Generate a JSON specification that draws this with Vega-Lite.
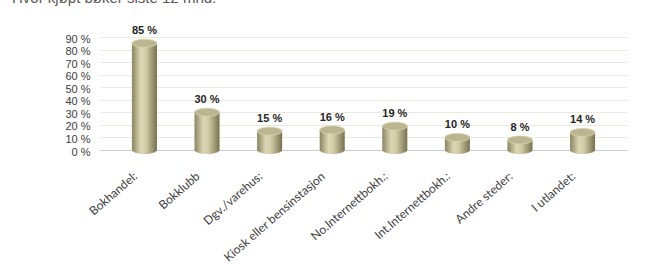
{
  "$schema": "https://vega.github.io/schema/vega-lite/v6.json",
  "width": 527,
  "height": 113,
  "autosize": "none",
  "padding": {"left": 100, "top": 37, "right": 42, "bottom": 118},
  "background": "white",
  "title": {
    "text": "Hvor kjøpt bøker siste 12 mnd.",
    "anchor": "start",
    "frame": "group",
    "dx": -88,
    "offset": 4,
    "baseline": "bottom",
    "fontSize": 15,
    "fontWeight": "normal",
    "font": "Liberation Sans",
    "color": "#595959"
  },
  "config": {"view": {"stroke": null}, "axisY": {"tickCount": 10}},
  "data": {
    "values": [
      {"cat": "Bokhandel:", "v": 85},
      {"cat": "Bokklubb", "v": 30},
      {"cat": "Dgv./varehus:", "v": 15},
      {"cat": "Kiosk eller bensinstasjon", "v": 16},
      {"cat": "No.Internettbokh.:", "v": 19},
      {"cat": "Int.Internettbokh.:", "v": 10},
      {"cat": "Andre steder:", "v": 8},
      {"cat": "I utlandet:", "v": 14}
    ]
  },
  "encoding": {
    "x": {
      "field": "cat",
      "type": "nominal",
      "sort": null,
      "scale": {"paddingInner": 0.6, "paddingOuter": 0.51},
      "axis": {
        "title": null,
        "labelAngle": -41,
        "labelAlign": "right",
        "labelBaseline": "middle",
        "labelPadding": 24,
        "labelOffset": -9,
        "labelFont": "Lato",
        "labelFontSize": 12,
        "labelColor": "#404040",
        "labelOverlap": false,
        "ticks": false,
        "domain": true,
        "domainColor": "#cccccc",
        "grid": false
      }
    }
  },
  "layer": [
    {
      "mark": {
        "type": "point",
        "shape": "M-1,0A1,0.32,0,1,0,1,0A1,0.32,0,1,0,-1,0Z",
        "size": 625,
        "filled": true,
        "opacity": 1,
        "strokeWidth": 0,
        "fill": {"gradient": "linear", "x1": 0, "x2": 1, "y1": 0, "y2": 0,
          "stops": [
            {"offset": 0, "color": "#8a8462"},
            {"offset": 0.35, "color": "#dcd7b3"},
            {"offset": 0.55, "color": "#d2cca6"},
            {"offset": 1, "color": "#77714f"}
          ]}
      },
      "encoding": {"y": {"datum": 0, "type": "quantitative", "scale": {"domain": [0, 90]},
          "axis": {
            "title": null,
            "values": [0, 10, 20, 30, 40, 50, 60, 70, 80, 90],
            "tickCount": 10,
            "labelExpr": "datum.value + ' %'",
            "labelFont": "Liberation Sans",
            "labelFontSize": 11,
            "labelColor": "#404040",
            "labelPadding": 10,
            "labelOverlap": false,
            "labelOffset": 2,
            "ticks": false,
            "domain": false,
            "grid": true,
            "gridColor": "#ebe9da"
          }}}
    },
    {
      "mark": {
        "type": "bar",
        "color": {"gradient": "linear", "x1": 0, "x2": 1, "y1": 0, "y2": 0,
          "stops": [
            {"offset": 0, "color": "#8a8462"},
            {"offset": 0.35, "color": "#dcd7b3"},
            {"offset": 0.55, "color": "#d2cca6"},
            {"offset": 1, "color": "#77714f"}
          ]}
      },
      "encoding": {
        "y": {
          "field": "v",
          "type": "quantitative",
          "scale": {"domain": [0, 90]},
          "axis": {
            "title": null,
            "values": [0, 10, 20, 30, 40, 50, 60, 70, 80, 90],
            "tickCount": 10,
            "labelExpr": "datum.value + ' %'",
            "labelFont": "Liberation Sans",
            "labelFontSize": 11,
            "labelColor": "#404040",
            "labelPadding": 10,
            "labelOverlap": false,
            "labelOffset": 2,
            "ticks": false,
            "domain": false,
            "grid": true,
            "gridColor": "#ebe9da"
          }
        }
      }
    },
    {
      "mark": {
        "type": "point",
        "shape": "M-1,0A1,0.32,0,1,0,1,0A1,0.32,0,1,0,-1,0Z",
        "size": 625,
        "filled": true,
        "opacity": 1,
        "fill": "#bbb590",
        "stroke": "#d8d3b0",
        "strokeWidth": 0.8
      },
      "encoding": {"y": {"field": "v", "type": "quantitative"}}
    },
    {
      "transform": [{"calculate": "datum.v + ' %'", "as": "lab"}],
      "mark": {
        "type": "text",
        "dy": -12,
        "font": "Liberation Sans",
        "fontSize": 11,
        "fontWeight": "bold",
        "color": "#262626"
      },
      "encoding": {
        "y": {"field": "v", "type": "quantitative"},
        "text": {"field": "lab"}
      }
    }
  ]
}
